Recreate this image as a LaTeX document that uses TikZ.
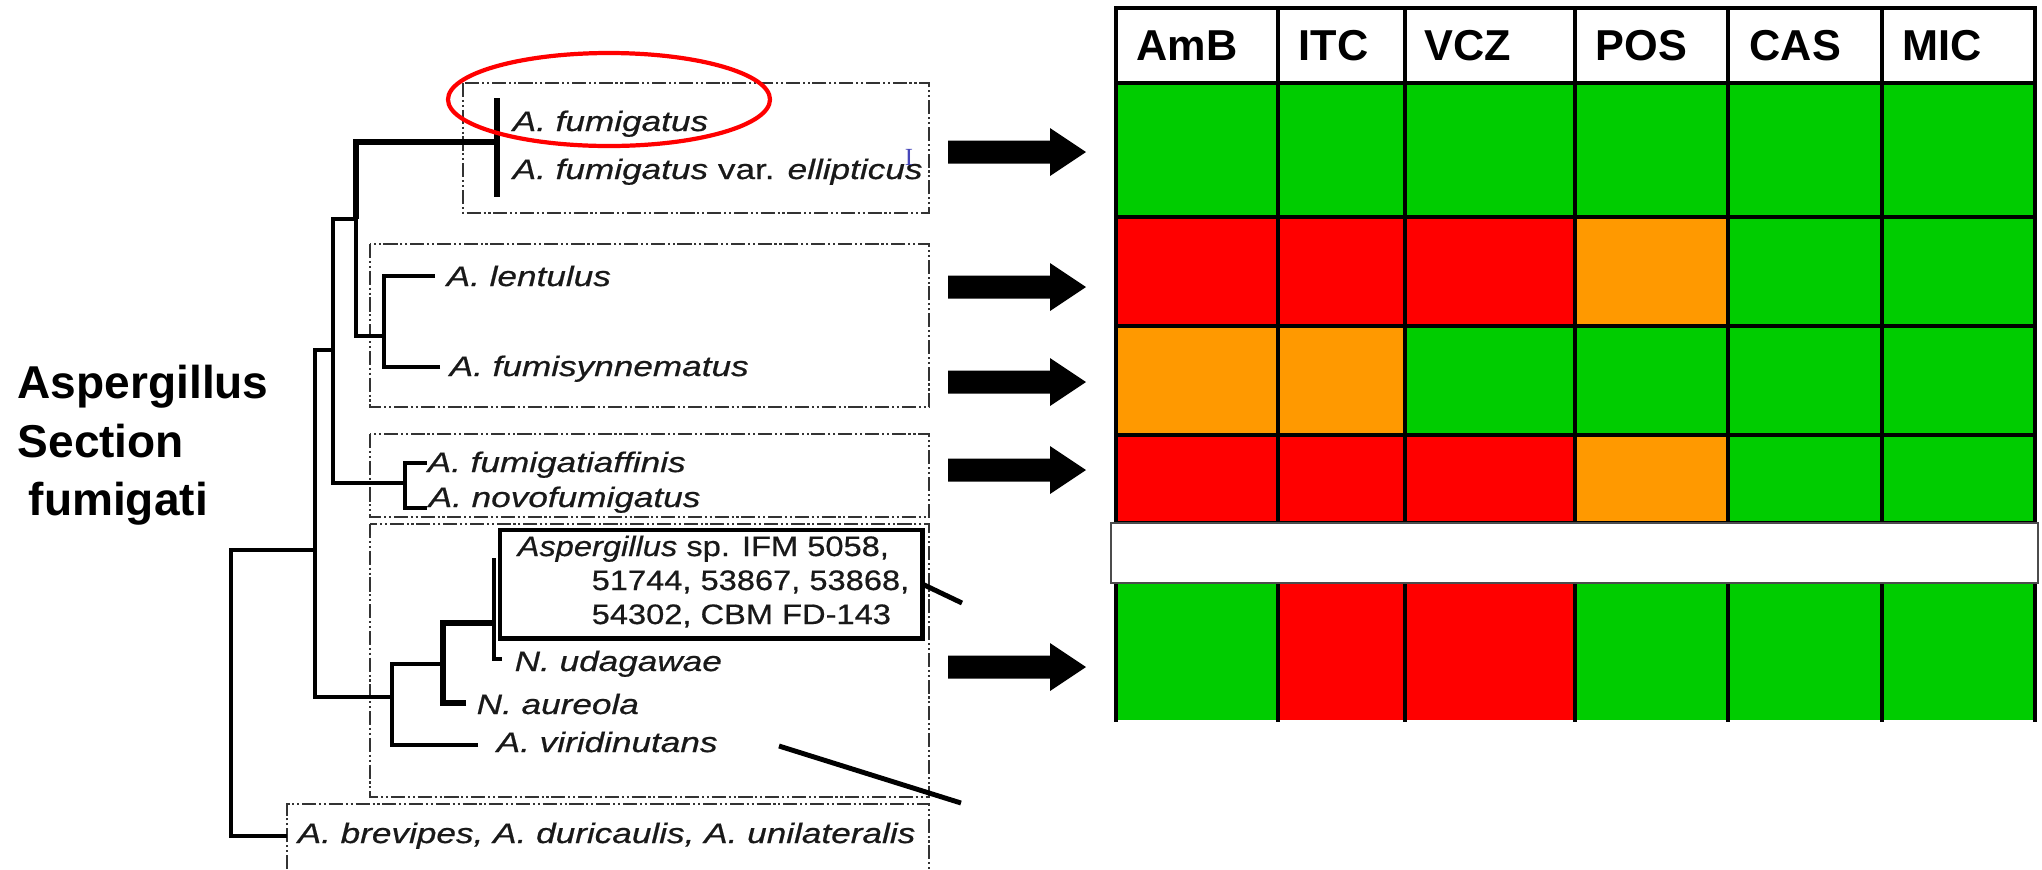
\documentclass[tikz,border=0pt]{standalone}
\usepackage{fontspec}
\setmainfont{Liberation Sans}
\newfontfamily\treefont[FakeStretch=1.25, FakeBold=0.6]{Liberation Sans}
\newfontfamily\spfont[FakeStretch=1.16, FakeBold=0.6]{Liberation Sans}
\newfontfamily\curfont{Liberation Serif}
\usepackage{tikz}
\usetikzlibrary{positioning}
\definecolor{cg}{HTML}{00CC00}
\definecolor{cr}{HTML}{FF0000}
\definecolor{co}{HTML}{FF9900}

\begin{document}
\begin{tikzpicture}[x=0.01cm, y=-0.01cm,
  br/.style={line width=1.3pt}, brt/.style={line width=1.9pt},
  clade/.style={draw=black!80, line width=0.45pt, dash pattern=on 4pt off 0.8pt on 0.6pt off 0.8pt on 0.6pt off 0.8pt},
  leaf/.style={font={\treefont\itshape\fontsize{8}{9}\selectfont}, text=black!90, inner sep=0pt, anchor=base west},
  spl/.style={leaf, font={\spfont\itshape\fontsize{8}{9}\selectfont}},
  lab/.style={font={\bfseries\fontsize{13.1}{15}\selectfont}, inner sep=0pt, anchor=base west},
  hd/.style={font={\bfseries\fontsize{12.3}{14}\selectfont}, inner sep=0pt, anchor=base west},
  grid/.style={line width=1pt, line cap=rect}]
\useasboundingbox (0,0) rectangle (2042,869);

% section label
\foreach \n/\x/\y/\t in {l1/17/398/Aspergillus, l2/17/457/Section, l3/28/515/fumigati}
  \node[lab] (\n) at (\x,\y) {\t};

% clade boxes
\foreach \a/\b/\c/\d in {463/83/929/213, 370/244/929/407, 370/434/929/517, 370/524/929/797}
  \draw[clade] (\a,\b) rectangle (\c,\d);
\draw[clade] (287,869) -- (287,804) -- (929,804) -- (929,869);

% leaves
\foreach \n/\x/\y/\t in {fum/512/131/A. fumigatus, ell/512/179/A. fumigatus {\upshape var.} ellipticus,
  len/446/286/A. lentulus, fsy/449/376/A. fumisynnematus, faf/427/472/A. fumigatiaffinis,
  nov/428/507/A. novofumigatus, uda/514/671/N. udagawae, aur/476/714/N. aureola,
  vir/496/752/A. viridinutans, bre/297/843/{A. brevipes, A. duricaulis, A. unilateralis}}
  \node[leaf] (\n) at (\x,\y) {\t};
\foreach \n/\x/\y/\t in {sp1/517/556/Aspergillus {\upshape sp. IFM 5058,}, sp2/591/590/{\upshape 51744, 53867, 53868,},
  sp3/591/624/{\upshape 54302, CBM FD-143}}
  \node[spl] (\n) at (\x,\y) {\t};
\node[draw, line width=1.4pt, minimum width=4.22cm, minimum height=1.08cm, inner sep=0pt, outer sep=0pt, anchor=north west] (spb) at (500,530) {};
\node[font={\curfont\fontsize{7}{8}\selectfont}, text=blue!45!gray, inner sep=0pt] (cur) at (909,157) {I};

% tree
\foreach \n/\x/\y in {nR/231/550, nA/315/550, nB/333/350, nC/356/219, nE/384/336, nD/405/483,
  nF/392/697, nG/443/664, nH/494/623, hTop/494/558, bar/497/142, bTop/497/98, bBot/497/197,
  tLen/435/276, tFsy/440/367, tFaf/427/463, tNov/427/508, tUda/502/659, tAur/466/703,
  tVir/478/745, tBre/287/836, cut1/962/603, d2/779/746, cut2/961/803}
  \coordinate (\n) at (\x,\y);
\draw[br] (nA) -- (nR) |- (tBre);
\draw[br] (nB) -| (nA);  \draw[br] (nF) -| (nA);
\draw[br] (nC) -| (nB);  \draw[br] (nD) -| (nB);
\draw[brt] (bar) -| (nC);  \draw[br] (nE) -| (nC);
\draw[brt] (bTop) -- (bBot);
\draw[br] (tLen) -| (nE);  \draw[br] (tFsy) -| (nE);
\draw[br] (tFaf) -| (nD);  \draw[br] (tNov) -| (nD);
\draw[br] (nG) -| (nF);  \draw[br] (tVir) -| (nF);
\draw[brt] (nH) -| (nG);  \draw[brt] (tAur) -| (nG);
\draw[br] (tUda) -| (nH) -- (hTop);
\draw[line width=1.4pt] (spb.east) -- (cut1);
\draw[line width=1.4pt] (d2) -- (cut2);
\draw[cr, line width=1.2pt] (609,99.5) ellipse [x radius=161, y radius=46.5];

% arrows
\foreach \y in {152,287,382,470,667}
  \fill (948,\y-11.5) -- (1050,\y-11.5) -- (1050,\y-24) -- (1086,\y) -- (1050,\y+24) -- (1050,\y+11.5) -- (948,\y+11.5) -- cycle;

% table
\def\cx{{1116,1278,1405,1575,1728,1882,2035}}
\foreach \ya/\yb/\cl in {83/217/{g,g,g,g,g,g}, 217/326/{r,r,r,o,g,g}, 326/435/{o,o,g,g,g,g},
  435/523/{r,r,r,o,g,g}, 583/720/{g,r,r,g,g,g}}
  \foreach \c [count=\i from 0] in \cl {
    \pgfmathsetmacro\xa{\cx[\i]}
    \pgfmathsetmacro\xb{\cx[\i+1]}
    \fill[c\c] (\xa,\ya) rectangle (\xb,\yb);
  }
\foreach \x in {1116,1278,1405,1575,1728,1882,2035}
  \draw[grid] (\x,8) -- (\x,720);
\foreach \y in {8,83,217,326,435,523}
  \draw[grid] (1116,\y) -- (2035,\y);
\draw[draw=black!70, fill=white, line width=0.6pt] (1111,523) rectangle (2038,583);
\foreach \n/\x/\t in {amb/1136/AmB, itc/1298/ITC, vcz/1424/VCZ, pos/1595/POS, cas/1749/CAS, mic/1902/MIC}
  \node[hd] (\n) at (\x,60) {\t};
\end{tikzpicture}
\end{document}
